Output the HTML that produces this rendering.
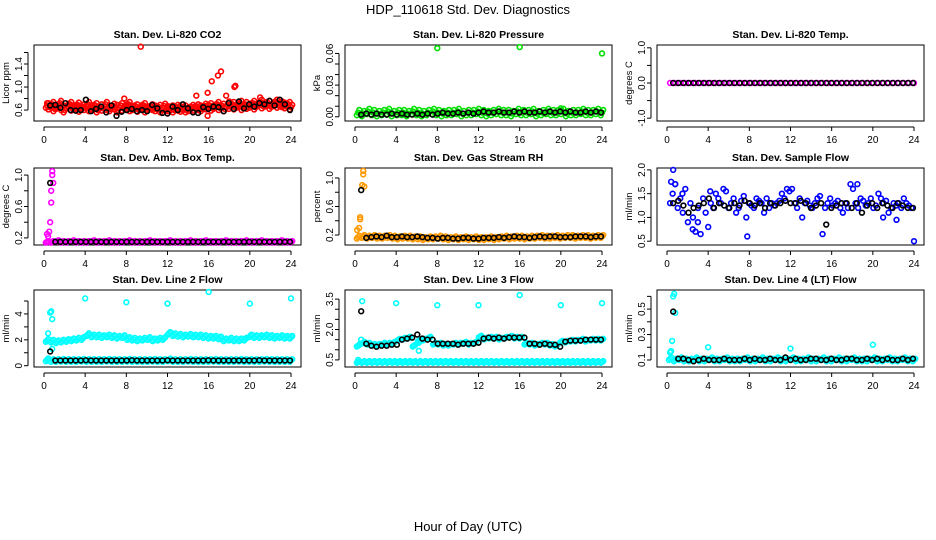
<!DOCTYPE html>
<html><head><meta charset="utf-8"><style>
body{margin:0;background:#fff;}
svg{display:block;font-family:"Liberation Sans",Arial,sans-serif;}
</style></head><body>
<svg id="chart" width="936" height="540" xmlns="http://www.w3.org/2000/svg">
<rect width="936" height="540" fill="#fff"/>
<text x="468" y="14" font-size="13" text-anchor="middle">HDP_110618  Std. Dev. Diagnostics</text>
<text x="468" y="531" font-size="13" text-anchor="middle">Hour of Day (UTC)</text>
</svg>
<script>
// ---- data ----
const xTicks = [0,4,8,12,16,20,24];
const titles = ["Stan. Dev. Li-820 CO2","Stan. Dev. Li-820 Pressure","Stan. Dev. Li-820 Temp.","Stan. Dev. Amb. Box Temp.","Stan. Dev. Gas Stream RH","Stan. Dev. Sample Flow","Stan. Dev. Line 2 Flow","Stan. Dev. Line 3 Flow","Stan. Dev. Line 4 (LT) Flow"];
const yTitles = ["Licor ppm","kPa","degrees C","degrees C","percent","ml/min","ml/min","ml/min","ml/min"];
const yTickVals = [[0.6,0.8,1.0,1.2,1.4,1.6],[0,0.01,0.02,0.03,0.04,0.05,0.06],[-1,-0.5,0,0.5,1],[0.2,0.4,0.6,0.8,1.0],[0.2,0.4,0.6,0.8,1.0],[0.5,1.0,1.5,2.0],[0,1,2,3,4,5],[0.5,1.0,1.5,2.0,2.5,3.0,3.5],[0.1,0.2,0.3,0.4,0.5,0.6]];
const yTickLabels = [["0.6","","1.0","","1.4",""],["0.00","","","0.03","","","0.06"],["-1.0","","0.0","","1.0"],["0.2","","0.6","","1.0"],["0.2","","0.6","","1.0"],["0.5","1.0","1.5","2.0"],["0","","2","","4",""],["0.5","","","2.0","","","3.5"],["0.1","","0.3","","0.5",""]];
const yLims = [[0.41,1.73],[-0.004,0.068],[-1.08,1.08],[0.11,1.09],[0.06,1.14],[0.42,2.04],[-0.1,5.85],[0.15,3.95],[0.045,0.65]];
const colors = ["#ff0000","#00e000","#ff00ff","#ff00ff","#ff9900","#0000ff","#00ffff","#00ffff","#00ffff"];

// coloured main series (evenly spread across 0..24 h)
const colA = [
[0.68,0.65,0.7,0.62,0.66,0.72,0.64,0.6,0.67,0.7,0.63,0.65,0.69,0.61,0.66,0.64,0.7,0.62,0.65,0.68,0.6,0.66,0.63,0.7,0.64,0.62,0.67,0.65,0.6,0.68,0.63,0.66,0.7,0.62,0.64,0.66,0.61,0.65,0.68,0.6,0.63,0.66,0.64,0.62,0.65,0.6,0.67,0.63,0.62,0.64,0.6,0.65,0.63,0.61,0.64,0.6,0.62,0.65,0.63,0.66,0.64,0.62,0.67,0.65,0.68,0.63,0.66,0.7,0.64,0.67,0.62,0.69,0.66,0.7,0.65,0.68,0.72,0.64,0.7,0.66,0.68,0.72,0.65,0.7,0.74,0.67,0.7,0.72,0.66,0.7,0.74,0.68,0.71,0.69,0.67,0.7,0.65],
[0.004,0.003,0.005,0.004,0.003,0.004,0.005,0.003,0.004,0.004,0.003,0.005,0.004,0.003,0.004,0.005,0.004,0.003,0.004,0.004,0.005,0.003,0.004,0.004,0.005,0.004,0.003,0.004,0.005,0.004,0.004,0.003,0.005,0.004,0.004,0.005,0.003,0.004,0.005,0.004,0.004,0.005,0.003,0.004,0.004,0.005,0.004,0.004,0.005,0.004],
[0,0,0,0,0,0,0,0,0,0,0,0,0,0,0,0,0,0,0,0,0,0,0,0,0,0,0,0,0,0,0,0,0,0,0,0,0,0,0,0,0,0,0,0,0,0,0,0,0],
[0.15,0.15,0.16,0.15,0.15,0.16,0.15,0.15,0.15,0.16,0.15,0.15,0.16,0.15,0.15,0.15,0.16,0.15,0.15,0.15,0.16,0.15,0.15,0.15,0.16,0.15,0.15,0.15,0.16,0.15,0.15,0.16,0.15,0.15,0.15,0.16,0.15,0.15,0.15,0.16,0.15,0.15,0.16,0.15,0.15,0.15,0.16,0.15,0.15],
[0.17,0.18,0.17,0.18,0.17,0.17,0.18,0.17,0.16,0.17,0.17,0.16,0.16,0.15,0.16,0.16,0.17,0.16,0.15,0.16,0.15,0.16,0.15,0.16,0.15,0.15,0.16,0.15,0.16,0.17,0.16,0.17,0.17,0.16,0.17,0.17,0.18,0.17,0.17,0.18,0.17,0.18,0.18,0.17,0.18,0.18,0.17,0.18,0.18],
[1.3,1.5,1.7,1.2,1.4,1.1,1.6,0.9,1.3,1.0,0.7,1.2,0.65,1.4,1.1,0.8,1.3,1.2,1.5,1.4,1.3,1.6,1.55,1.2,1.3,1.4,1.1,1.2,1.35,1.45,1.0,1.3,1.25,1.2,1.4,1.35,1.3,1.1,1.4,1.2,1.3,1.25,1.3,1.35,1.5,1.4,1.6,1.55,1.6,1.3,1.2,1.4,1.0,1.3,1.35,1.25,1.2,1.3,1.4,1.45,0.65,1.2,1.3,1.4,1.25,1.3,1.35,1.2,1.1,1.3,1.2,1.7,1.6,1.3,1.2,1.4,1.35,1.25,1.3,1.4,1.2,1.25,1.5,1.4,1.3,1.35,1.1,1.2,1.3,1.25,1.3,1.2,1.4,1.3,1.25,1.2,0.5],
[1.95,1.9,1.85,1.9,1.95,2.0,2.05,2.1,2.4,2.3,2.3,2.25,2.3,2.25,2.2,2.25,2.1,2.05,2.0,2.05,2.1,2.0,2.05,2.1,2.5,2.4,2.35,2.3,2.35,2.3,2.3,2.25,2.2,2.2,2.15,2.0,2.05,2.0,2.0,2.05,2.3,2.25,2.25,2.3,2.25,2.2,2.25,2.2,2.2],
[0.4,0.4,0.4,0.4,0.4,0.4,0.4,0.4,0.4,0.4,0.4,0.4,0.4,0.4,0.4,0.4,0.4,0.4,0.4,0.4,0.4,0.4,0.4,0.4,0.4,0.4,0.4,0.4,0.4,0.4,0.4,0.4,0.4,0.4,0.4,0.4,0.4,0.4,0.4,0.4,0.4,0.4,0.4,0.4,0.4,0.4,0.4,0.4,0.4],
[0.11,0.1,0.11,0.1,0.1,0.11,0.1,0.1,0.11,0.1,0.1,0.11,0.1,0.1,0.1,0.11,0.1,0.1,0.11,0.1,0.1,0.11,0.1,0.1,0.11,0.1,0.1,0.11,0.1,0.1,0.11,0.1,0.1,0.11,0.1,0.1,0.11,0.1,0.1,0.1,0.11,0.1,0.1,0.11,0.1,0.1,0.11,0.1,0.1]
];
// second coloured band (line 2 low band, line 3 upper band)
const colB = [null,null,null,null,null,null,
[0.45,0.4,0.4,0.42,0.4,0.4,0.4,0.42,0.4,0.4,0.4,0.4,0.42,0.4,0.4,0.4,0.42,0.4,0.4,0.4,0.4,0.42,0.4,0.4,0.45,0.4,0.4,0.4,0.42,0.4,0.4,0.4,0.4,0.42,0.4,0.4,0.4,0.4,0.42,0.4,0.4,0.4,0.4,0.42,0.4,0.4,0.4,0.4,0.4],
[1.2,1.35,1.3,1.25,1.25,1.3,1.3,1.35,1.5,1.55,1.6,1.2,1.45,1.5,1.6,1.3,1.3,1.25,1.25,1.3,1.3,1.35,1.3,1.35,1.65,1.55,1.6,1.6,1.55,1.6,1.65,1.6,1.6,1.3,1.3,1.25,1.3,1.3,1.25,1.2,1.4,1.4,1.45,1.45,1.5,1.45,1.5,1.5,1.5],
null];
const spreads = [0.04,0.0025,0,0.01,0.02,0,0.1,0.04,0.01];
// coloured outliers [hour, value]
const outliers = [
[[9.4,1.7],[14.8,0.85],[15.9,0.9],[16.3,1.1],[16.9,1.2],[17.2,1.27],[17.7,0.85],[18.0,0.75],[18.5,1.0],[18.6,1.02],[7.8,0.8],[15.9,0.5],[0.3,0.72],[21,0.82]],
[[8,0.065],[16,0.066],[24,0.06],[20,0.008]],
[],
[[0.3,0.25],[0.4,0.22],[0.5,0.28],[0.6,0.4],[0.7,0.8],[0.8,1.0],[0.8,1.05],[0.9,0.9],[0.7,0.65]],
[[0.2,0.27],[0.4,0.3],[0.5,0.45],[0.5,0.42],[0.7,0.9],[0.8,1.05],[0.8,1.1],[0.9,0.88]],
[[0.4,1.75],[0.6,2.0],[0.8,1.7],[1.5,1.5],[2.5,0.75],[3.0,0.9],[4.2,1.55],[7.8,0.6],[18.5,1.7],[21,1.0],[22.3,0.95]],
[[0.4,2.5],[0.6,4.1],[0.7,4.2],[0.8,3.6],[0.8,1.3],[4,5.2],[8,4.9],[12,4.8],[16,5.7],[20,4.8],[24,5.2],[0.4,0.55]],
[[0.7,3.4],[4,3.3],[8,3.2],[12,3.2],[16,3.7],[20,3.2],[24,3.3],[0.3,0.5],[0.5,1.3],[0.6,1.5],[6.2,0.95],[6.2,1.35]],
[[0.3,0.16],[0.4,0.17],[0.5,0.25],[0.6,0.6],[0.7,0.62],[0.8,0.47],[4,0.2],[12,0.19],[20,0.22]]
];
// black series (evenly spread over 0.5..23.9 h)
const blackA = [
[0.68,0.69,0.64,0.72,0.6,0.59,0.6,0.78,0.58,0.62,0.66,0.56,0.68,0.5,0.57,0.6,0.62,0.58,0.6,0.58,0.69,0.63,0.55,0.54,0.66,0.6,0.7,0.63,0.56,0.55,0.65,0.62,0.66,0.65,0.58,0.72,0.62,0.75,0.63,0.7,0.66,0.72,0.7,0.76,0.68,0.78,0.7,0.6],
[0.002,0.003,0.002,0.003,0.002,0.002,0.003,0.002,0.003,0.002,0.002,0.003,0.002,0.003,0.002,0.003,0.004,0.003,0.003,0.004,0.003,0.004,0.003,0.004,0.005,0.004,0.004,0.005,0.004,0.004,0.005,0.004,0.005,0.004,0.004,0.005,0.004,0.005,0.004,0.005,0.004,0.005,0.004,0.004,0.005,0.004,0.005,0.004],
[0,0,0,0,0,0,0,0,0,0,0,0,0,0,0,0,0,0,0,0,0,0,0,0,0,0,0,0,0,0,0,0,0,0,0,0,0,0,0,0,0,0,0,0,0,0,0,0],
[0.9,0.15,0.15,0.15,0.15,0.15,0.15,0.15,0.15,0.15,0.15,0.15,0.15,0.15,0.15,0.15,0.15,0.15,0.15,0.15,0.15,0.15,0.15,0.15,0.15,0.15,0.15,0.15,0.15,0.15,0.15,0.15,0.15,0.15,0.15,0.15,0.15,0.15,0.15,0.15,0.15,0.15,0.15,0.15,0.15,0.15,0.15,0.15],
[0.83,0.16,0.17,0.18,0.17,0.19,0.17,0.17,0.18,0.17,0.17,0.18,0.17,0.16,0.16,0.15,0.16,0.16,0.15,0.15,0.16,0.16,0.15,0.15,0.16,0.16,0.16,0.17,0.16,0.17,0.18,0.17,0.17,0.16,0.17,0.18,0.17,0.18,0.18,0.17,0.17,0.17,0.18,0.18,0.18,0.17,0.18,0.18],
[1.3,1.35,1.25,1.1,1.2,1.25,1.3,1.4,1.2,1.3,1.25,1.2,1.3,1.25,1.35,1.3,1.25,1.3,1.2,1.3,1.25,1.3,1.35,1.3,1.3,1.35,1.3,1.2,1.25,1.3,0.85,1.2,1.25,1.3,1.3,1.2,1.3,1.1,1.25,1.3,1.2,1.3,1.25,1.2,1.3,1.25,1.2,1.2],
[1.1,0.4,0.4,0.4,0.4,0.4,0.4,0.42,0.4,0.4,0.4,0.4,0.4,0.4,0.4,0.4,0.42,0.4,0.4,0.4,0.4,0.4,0.4,0.42,0.4,0.4,0.4,0.4,0.4,0.4,0.4,0.42,0.4,0.4,0.4,0.4,0.4,0.4,0.4,0.4,0.4,0.42,0.4,0.4,0.4,0.4,0.4,0.4],
[2.9,1.3,1.2,1.15,1.2,1.2,1.25,1.25,1.5,1.55,1.6,1.75,1.55,1.5,1.5,1.3,1.3,1.3,1.3,1.25,1.3,1.3,1.3,1.35,1.55,1.6,1.55,1.6,1.55,1.6,1.6,1.6,1.6,1.3,1.3,1.25,1.3,1.25,1.25,1.15,1.4,1.45,1.45,1.45,1.5,1.5,1.5,1.5],
[0.48,0.11,0.11,0.1,0.09,0.1,0.11,0.1,0.1,0.1,0.11,0.1,0.1,0.1,0.11,0.1,0.11,0.1,0.1,0.11,0.1,0.1,0.12,0.1,0.11,0.1,0.1,0.11,0.11,0.1,0.1,0.11,0.1,0.1,0.11,0.11,0.1,0.1,0.11,0.1,0.11,0.1,0.11,0.1,0.1,0.11,0.1,0.11]
];

// ---- layout ----
const NS="http://www.w3.org/2000/svg";
const svg=document.getElementById('chart');
const colX=[[34,301],[345,612],[657,924]];
const rowY=[[45,121],[168,245],[290,367]];
function mk(tag,attrs,parent){const e=document.createElementNS(NS,tag);for(const k in attrs)e.setAttribute(k,attrs[k]);(parent||svg).appendChild(e);return e;}

for(let p=0;p<9;p++){
  const [bx0,bx1]=colX[p%3],[by0,by1]=rowY[Math.floor(p/3)];
  const xs=h=>bx0+10+h*(bx1-bx0-20)/24;
  const [ymn,ymx]=yLims[p];
  const ys=v=>by1-(v-ymn)/(ymx-ymn)*(by1-by0);
  const g=mk('g',{});
  
  
  const box=mk('rect',{x:bx0,y:by0,width:bx1-bx0,height:by1-by0,fill:'none',stroke:'#000','stroke-width':1},g);
  
  
  const t=mk('text',{x:(bx0+bx1)/2,y:by0-7,'font-size':10.5,'font-weight':'bold','text-anchor':'middle'},g);
  t.textContent=titles[p];
  
  
  const yt=mk('text',{transform:`translate(${bx0-25},${(by0+by1)/2}) rotate(-90)`,'font-size':9.5,'text-anchor':'middle'},g);
  yt.textContent=yTitles[p];
  
  
  // x axis
  mk('line',{x1:xs(0),x2:xs(24),y1:by1+6,y2:by1+6,stroke:'#000'},g);
  xTicks.forEach(v=>{
    mk('line',{x1:xs(v),x2:xs(v),y1:by1+6,y2:by1+10,stroke:'#000'},g);
    const l=mk('text',{x:xs(v),y:by1+22,'font-size':10,'text-anchor':'middle'},g);
    l.textContent=v;
    
    
  });
  // y axis
  const tv=yTickVals[p];
  mk('line',{x1:bx0-6,x2:bx0-6,y1:ys(tv[0]),y2:ys(tv[tv.length-1]),stroke:'#000'},g);
  tv.forEach((v,i)=>{
    mk('line',{x1:bx0-10,x2:bx0-6,y1:ys(v),y2:ys(v),stroke:'#000'},g);
    if(yTickLabels[p][i]){
      const l=mk('text',{transform:`translate(${bx0-12},${ys(v)}) rotate(-90)`,'font-size':10,'text-anchor':'middle'},g);
      l.textContent=yTickLabels[p][i];
      
      
    }
  });
  const clip=mk('g',{},g);
  function dot(h,v,c,name){
    if(v<ymn||v>ymx) return;
    const d=mk('circle',{cx:xs(h),cy:ys(v),r:2.4,fill:'none',stroke:c,'stroke-width':1.6},clip);
    
    
  }
  const s=spreads[p];
  [colA[p],colB[p]].forEach(arr=>{
    if(!arr) return;
    arr.forEach((v,i)=>{
      const h=0.3+i*(23.7/(arr.length-1));
      dot(h,v,colors[p],'data-point');
      if(s>0){dot(h+0.12,v+s,colors[p],'data-point');dot(h-0.12,v-s,colors[p],'data-point');}
    });
  });
  outliers[p].forEach(o=>dot(o[0],o[1],colors[p],'outlier-point'));
  blackA[p].forEach((v,i)=>{
    dot(0.6+i*(23.3/(blackA[p].length-1)),v,'#000','hourly-point');
  });
}
</script>
</body></html>
